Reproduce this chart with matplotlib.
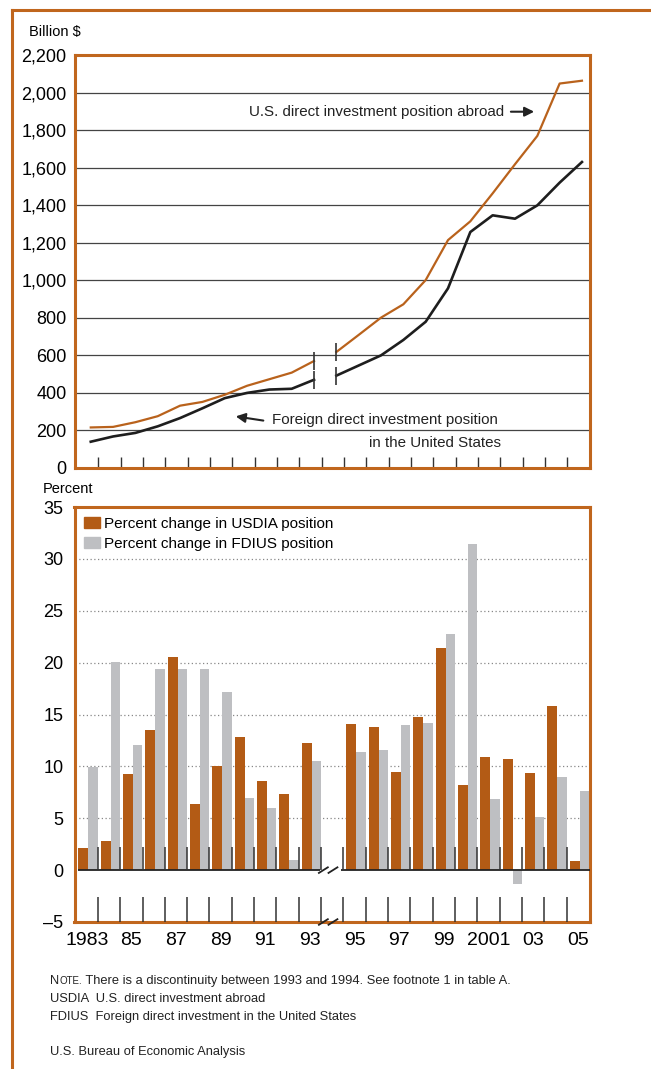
import numpy as np
import matplotlib
matplotlib.use("Agg")
import matplotlib.pyplot as plt
from matplotlib.patches import Patch
from matplotlib.lines import Line2D

plt.rcParams['font.family'] = ['Liberation Sans', 'DejaVu Sans']

ORANGE = '#b35b15'
FRAME = '#c0661d'
LINE_OR = '#b9621c'
GRAY = '#bebfc2'

## positions, billion $ (discontinuity between 1993 and 1994)
years_a = list(range(1983, 1994))
usdia_a = [216, 219, 244, 276, 332, 352, 390, 438, 473, 508, 570]
fdius_a = [140, 168, 187, 222, 266, 318, 372, 400, 418, 422, 470]
years_b = list(range(1994, 2006))
usdia_b = [618, 709, 801, 872, 1001, 1214, 1314, 1463, 1618, 1769, 2048, 2063]
fdius_b = [492, 546, 600, 682, 779, 957, 1257, 1346, 1328, 1399, 1520, 1630]

## percent change (no bars for 1994)
years = list(range(1983, 2006))
usdia_pct = [2.1, 2.8, 9.3, 13.5, 20.5, 6.4, 10.0, 12.8, 8.6, 7.3, 12.3, None,
             14.1, 13.8, 9.5, 14.8, 21.4, 8.2, 10.9, 10.7, 9.4, 15.8, 0.9]
fdius_pct = [9.9, 20.1, 12.1, 19.4, 19.4, 19.4, 17.2, 7.0, 6.0, 1.0, 10.5, None,
             11.4, 11.6, 14.0, 14.2, 22.8, 31.4, 6.9, -1.3, 5.1, 9.0, 7.6]

xlabels = ['1983', '85', '87', '89', '91', '93', '95', '97', '99', '2001', '03', '05']
top_ticks = list(range(0, 2201, 200))
bot_ticks = list(range(-5, 36, 5))

fig = plt.figure(figsize=(6.51, 10.69), dpi=100)
W, H = 651, 1069
ax1 = fig.add_axes([75 / W, 1 - 468 / H, 515 / W, 413 / H])
ax2 = fig.add_axes([74.5 / W, 1 - 922 / H, 515 / W, 415 / H])
XLIM = (-0.546, 22.52)

# outer frame
fig.add_artist(Line2D([12 / W, 12 / W], [0, 1 - 10 / H], color=FRAME, lw=2.2))
fig.add_artist(Line2D([12 / W, 1], [1 - 10 / H, 1 - 10 / H], color=FRAME, lw=2.2))

# ---- top chart: positions
shift = 0.16
for yrs, us, fd in [(years_a, usdia_a, fdius_a), (years_b, usdia_b, fdius_b)]:
    x = np.array(yrs) - 1983 + shift
    ax1.plot(x, us, color=LINE_OR, lw=1.6, zorder=3)
    ax1.plot(x, fd, color='#1e1e1e', lw=1.9, zorder=3)
for x0, ys in [(years_a[-1], [usdia_a[-1], fdius_a[-1]]), (years_b[0], [usdia_b[0], fdius_b[0]])]:
    ax1.plot([x0 - 1983 + shift] * 2, ys, ls='none', marker='|', ms=13, mew=1.2,
             color='#333', zorder=4)

for v in top_ticks[1:-1]:
    ax1.axhline(v, color='#444', lw=0.9, zorder=1)
ax1.set_xlim(*XLIM)
ax1.set_ylim(0, 2200)
ax1.set_yticks(top_ticks, [f'{v:,}' for v in top_ticks])
ax1.set_xticks(np.arange(0.5, 22, 1), [])
ax1.tick_params(axis='y', length=0, pad=6, labelsize=13)
ax1.tick_params(axis='x', direction='in', length=8, width=1, color='#333')
for s in ax1.spines.values():
    s.set_color(FRAME)
    s.set_linewidth(2.2)

ax1.text(0.833, 0.8627, 'U.S. direct investment position abroad', transform=ax1.transAxes,
         ha='right', va='center', fontsize=10.9, color='#222')
ax1.annotate('', xy=(0.897, 0.8627), xytext=(0.841, 0.8627), xycoords='axes fraction',
             arrowprops=dict(arrowstyle='-|>', color='#222', lw=1.5, mutation_scale=14))
ax1.text(0.382, 0.1162, 'Foreign direct investment position', transform=ax1.transAxes,
         ha='left', va='center', fontsize=10.9, color='#222')
ax1.text(0.571, 0.0598, 'in the United States', transform=ax1.transAxes,
         ha='left', va='center', fontsize=10.9, color='#222')
ax1.annotate('', xy=(0.3068, 0.126), xytext=(0.371, 0.1138), xycoords='axes fraction',
             arrowprops=dict(arrowstyle='-|>', color='#222', lw=1.5, mutation_scale=14))

fig.text(29 / W, 1 - 31.7 / H, 'Billion $', fontsize=10.5, va='center')

# ---- bottom chart: percent change
idx = np.array([y - 1983 for y in years])
ok_u = [i for i, v in enumerate(usdia_pct) if v is not None]
ok_f = [i for i, v in enumerate(fdius_pct) if v is not None]
ax2.bar(idx[ok_u] + 0.08, [usdia_pct[i] for i in ok_u], width=-0.447, align='edge',
        color=ORANGE, zorder=2)
ax2.bar(idx[ok_f] + 0.08, [fdius_pct[i] for i in ok_f], width=0.417, align='edge',
        color=GRAY, zorder=2)

for v in bot_ticks[2:-1]:
    ax2.axhline(v, color='#888', lw=0.9, ls=(0, (1, 2)), zorder=1)
ax2.hlines(0, -0.4, 10.43, color='#222', lw=1.3, zorder=3)
ax2.hlines(0, 11.4, XLIM[1], color='#222', lw=1.3, zorder=3)
ticks = np.arange(0.5, 22, 1)
ax2.vlines(ticks, 0, 2.2, color='#333', lw=1.1, zorder=3)
ax2.vlines(ticks, -5, -2.6, color='#333', lw=1.1, zorder=3)
for yb in (0, -5):
    for xc in (10.6, 11.03):
        ax2.plot([xc - 0.2, xc + 0.2], [yb - 0.27, yb + 0.27], color='#222', lw=1.3,
                 clip_on=False, zorder=5)

ax2.set_xlim(*XLIM)
ax2.set_ylim(-5, 35)
ax2.set_yticks(bot_ticks, [str(v).replace('-', '\u2013') for v in bot_ticks])
ax2.set_xticks(idx[::2], xlabels)
ax2.tick_params(axis='y', length=0, pad=8, labelsize=13)
ax2.tick_params(axis='x', length=0, pad=7, labelsize=14)
for s in ax2.spines.values():
    s.set_color(FRAME)
    s.set_linewidth(2.2)

ax2.legend([Patch(color=ORANGE), Patch(color=GRAY)],
           ['Percent change in USDIA position', 'Percent change in FDIUS position'],
           loc='upper left', frameon=False, prop={'size': 11},
           handlelength=1.0, handleheight=0.7, handletextpad=0.3, labelspacing=0.4,
           borderaxespad=0.2, borderpad=0.45)

fig.text(43 / W, 1 - 489 / H, 'Percent', fontsize=10.5, va='center')

# ---- notes
renderer = fig.canvas.get_renderer()
x = 50 / W
yn = 1 - 984 / H
for part, size in [('N', 9.3), ('OTE.', 7), (' There is a discontinuity between 1993 and 1994. See footnote 1 in table A.', 9.3)]:
    t = fig.text(x, yn, part, fontsize=size, va='baseline', color='#222')
    x = fig.transFigure.inverted().transform(t.get_window_extent(renderer))[1, 0]
fig.text(50 / W, 1 - 1002 / H, 'USDIA  U.S. direct investment abroad', fontsize=9.3,
         va='baseline', color='#222')
fig.text(50 / W, 1 - 1020 / H, 'FDIUS  Foreign direct investment in the United States',
         fontsize=9.3, va='baseline', color='#222')
fig.text(50 / W, 1 - 1055 / H, 'U.S. Bureau of Economic Analysis', fontsize=9.3,
         va='baseline', color='#222')

fig.savefig('out.png', dpi=100)
